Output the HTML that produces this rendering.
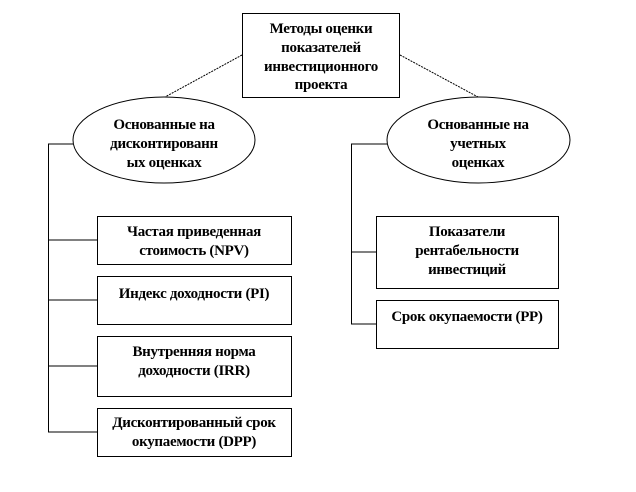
<!DOCTYPE html>
<html><head><meta charset="utf-8"><style>
html,body{margin:0;padding:0;background:#fff;width:636px;height:492px;overflow:hidden}
svg text{font-family:"Liberation Serif","Noto Serif CJK SC",serif;font-weight:bold;font-size:15px;fill:#000;text-anchor:middle;letter-spacing:-0.3px}
</style></head><body>
<svg width="636" height="492" viewBox="0 0 636 492" xmlns="http://www.w3.org/2000/svg">
<g stroke="#000" stroke-width="1" fill="none">
<rect x="242.5" y="13.5" width="157" height="84"/>
<line x1="242" y1="55" x2="165" y2="97" stroke-dasharray="2,1"/>
<line x1="400" y1="55" x2="478" y2="97" stroke-dasharray="2,1"/>
<ellipse cx="164" cy="140" rx="91" ry="43"/>
<ellipse cx="478.5" cy="140" rx="91.5" ry="43"/>
<polyline points="73,144 48.5,144 48.5,432 97,432"/>
<line x1="48" y1="240" x2="97" y2="240"/>
<line x1="48" y1="300" x2="97" y2="300"/>
<line x1="48" y1="366" x2="97" y2="366"/>
<polyline points="387,144 351.5,144 351.5,324 376,324"/>
<line x1="351" y1="252" x2="376" y2="252"/>
<rect x="97.5" y="216.5" width="194" height="48"/>
<rect x="97.5" y="276.5" width="194" height="48"/>
<rect x="97.5" y="336.5" width="194" height="60"/>
<rect x="97.5" y="408.5" width="194" height="48"/>
<rect x="376.5" y="216.5" width="182" height="72"/>
<rect x="376.5" y="300.5" width="182" height="48"/>
</g>
<text x="321" y="33">Методы оценки</text>
<text x="321" y="52">показателей</text>
<text x="321" y="71">инвестиционного</text>
<text x="321" y="89">проекта</text>
<text x="164" y="129">Основанные на</text>
<text x="164" y="148">дисконтированн</text>
<text x="164" y="167">ых оценках</text>
<text x="478" y="129">Основанные на</text>
<text x="478" y="148">учетных</text>
<text x="478" y="167">оценках</text>
<text x="194" y="236">Частая приведенная</text>
<text x="194" y="255">стоимость (NPV)</text>
<text x="194" y="298">Индекс доходности (PI)</text>
<text x="194" y="356">Внутренняя норма</text>
<text x="194" y="375">доходности (IRR)</text>
<text x="194" y="427">Дисконтированный срок</text>
<text x="194" y="446">окупаемости (DPP)</text>
<text x="467" y="236">Показатели</text>
<text x="467" y="255">рентабельности</text>
<text x="467" y="274">инвестиций</text>
<text x="467" y="321">Срок окупаемости (PP)</text>
</svg>
</body></html>
